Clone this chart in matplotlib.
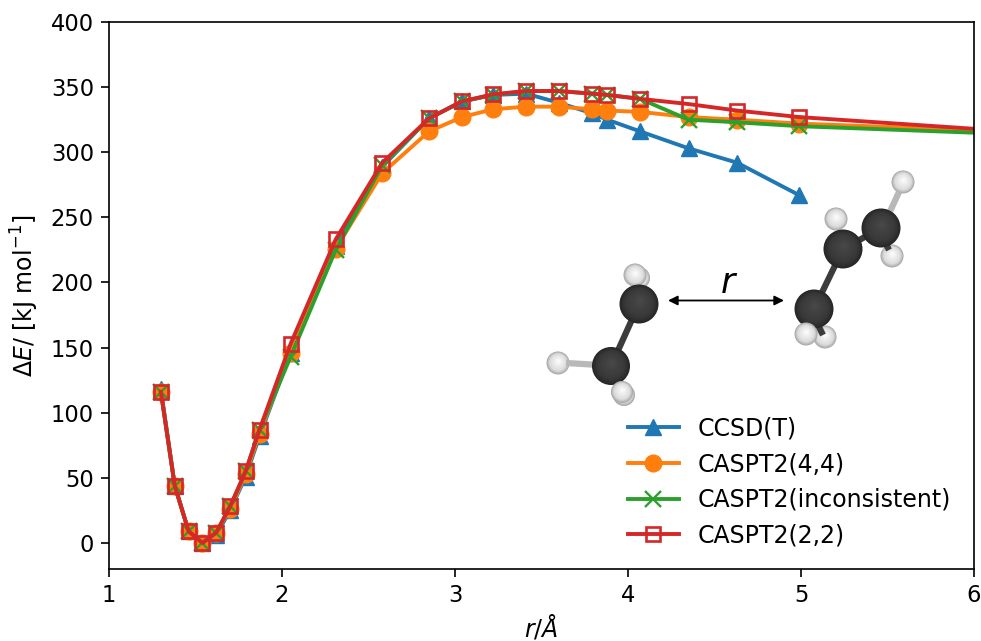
import numpy as np
import matplotlib
matplotlib.use("Agg")
import matplotlib.pyplot as plt
from matplotlib.patches import Circle

r = [1.30,1.38,1.46,1.54,1.62,1.70,1.79,1.87,2.05,2.31,2.58,2.85,3.04,3.22,3.41,3.60,3.79,3.88,4.07,4.35,4.63,4.99]
r_tail = r + [6.0]
ccsd = [118,44,9,0,6,25,51,82,146,228,289,326,339,344,345,338,330,325,316,303,292,267]
cas44 = [116,44,9,0,8,26,53,84,146,226,284,316,327,333,335,335,333,332,331,327,325,322,317]
casinc = [116,44,9,0,8,28,55,87,143,225,290,326,339,344,347,347,345,344,341,325,323,320,315]
cas22 = [116,44,9,0,8,28,55,87,153,233,292,326,339,344.5,347,347,345,344,341,337,332,327,318]
labels = ["CCSD(T)", "CASPT2(4,4)", "CASPT2(inconsistent)", "CASPT2(2,2)"]
xticks = [1,2,3,4,5,6]
yticks = [0,50,100,150,200,250,300,350,400]

# molecule sketch (pixel positions in the figure): x, y, radius
carbons_left = [(639,304,19.5),(611,366,19)]
h_left_back = [(639,278,11),(635,275,11.5),(558,363,11.5),(624,395,11)]
h_left_front = [(622,392,11)]
carbons_right = [(814,309,19.5),(843,249,19.5),(881,228,19.5)]
h_right_back = [(903,182,11.5),(836,219,11.5),(892,256,11.5),(825,337,11.5)]
h_right_front = [(806,334,11.5)]
sticks_dark = [((639,304),(611,366)),((814,309),(843,249)),((843,249),(881,228)),
               ((636,286),(638,300)),((838,231),(840,245)),((884,240),(889,250)),((818,325),(823,335))]
sticks_light = [((566,363),(600,365)),((899,192),(887,218)),((616,378),(620,388))]

plt.rcParams.update({"font.family": "DejaVu Sans", "font.size": 16.5,
                     "axes.linewidth": 1.2, "mathtext.default": "it"})
fig = plt.figure(figsize=(9.81, 6.41), dpi=100)
ax = fig.add_axes([109/981, 1-569/641, (974-109)/981, (569-22)/641])

lw = 2.8
ax.plot(r, ccsd, "-^", color="C0", lw=lw, ms=11.5, label=labels[0])
ax.plot(r_tail, cas44, "-o", color="C1", lw=lw, ms=12, markevery=range(len(r)), label=labels[1])
ax.plot(r_tail, casinc, "-x", color="C2", lw=lw, ms=11, mew=1.7, markevery=range(len(r)), label=labels[2])
ax.plot(r_tail, cas22, "-s", color="C3", lw=lw, ms=9.5, mfc="none", mew=1.9, markevery=range(len(r)), label=labels[3])

ax.set_xlim(1, 6)
ax.set_ylim(-20, 400)
ax.set_xticks(xticks)
ax.set_yticks(yticks)
ax.tick_params(length=5.8, width=1.2, pad=5, labelsize=16.3)
ax.set_xlabel(r"$r/Å$", fontsize=17)
ax.set_ylabel(r"$\mathrm{\Delta}E$/ [kJ mol$^{\mathrm{-1}}$]", fontsize=17)
ax.xaxis.set_label_coords(0.5, -0.08)
ax.yaxis.set_label_coords(-0.079, 0.5)
ax.legend(loc="lower left", bbox_to_anchor=(0.575, 0.0), frameon=False, fontsize=17,
          handlelength=2.16, labelspacing=0.5, handletextpad=0.8)

ov = fig.add_axes([0, 0, 1, 1], facecolor="none", zorder=5)
ov.set_xlim(0, 981)
ov.set_ylim(641, 0)
ov.axis("off")

z = [10]
def sphere(x, y, rad, edge, mid, core):
    z[0] += 1
    rgb = [np.array(matplotlib.colors.to_rgb(c)) for c in (edge, mid, core)]
    for f in np.linspace(1, 0.08, 24):
        t = 1 - f
        c = rgb[0] + (rgb[1]-rgb[0])*min(t/0.25, 1) + (rgb[2]-rgb[1])*max((t-0.25)/0.75, 0)
        ox, oy = (1-f)*rad*0.05, -(1-f)*rad*0.2
        ov.add_patch(Circle((x+ox, y+oy), rad*f, color=c, lw=0, zorder=z[0]))

def carbon(a): sphere(*a, "#262626", "#383838", "#4a4a4a")
def hydrogen(a): sphere(*a, "#a8a8a8", "#dcdcdc", "#ffffff")
def stick(s, col):
    z[0] += 1
    ov.plot([s[0][0], s[1][0]], [s[0][1], s[1][1]], color=col, lw=4.5, solid_capstyle="butt", zorder=z[0])

for a in h_left_back + h_right_back: hydrogen(a)
for s in sticks_light: stick(s, "#b8b8b8")
for s in sticks_dark: stick(s, "#3c3c3c")
for a in carbons_left + carbons_right: carbon(a)
for a in h_left_front + h_right_front: hydrogen(a)

ov.annotate("", xy=(668, 300.5), xytext=(784, 300.5), zorder=40,
            arrowprops=dict(arrowstyle="<|-|>", color="k", lw=1.3, mutation_scale=14, shrinkA=0, shrinkB=0))
ov.text(728, 283, "r", fontsize=25, style="italic", ha="center", va="center", zorder=40)

fig.savefig("out.png", dpi=100)
